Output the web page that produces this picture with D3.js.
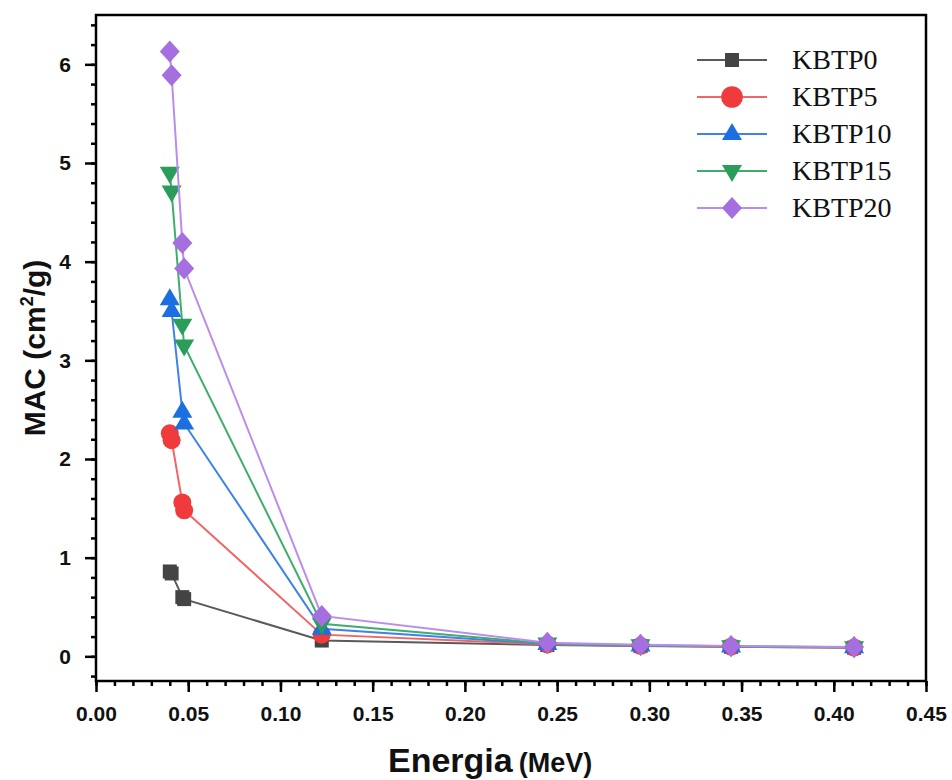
<!DOCTYPE html>
<html>
<head>
<meta charset="utf-8">
<script src="https://cdn.jsdelivr.net/npm/d3@7"></script>
<style>
  body { margin: 0; background: #fff; }
  svg { display: block; }
</style>
</head>
<body>
<div id="vis"></div>
<script>
// ----- DATA ----- //
const energies = [0.0400, 0.0410, 0.0468, 0.0478, 0.1224, 0.2447, 0.2952, 0.3443, 0.4110];
const seriesNames = ["KBTP0", "KBTP5", "KBTP10", "KBTP15", "KBTP20"];
const kbtp0 = [0.86, 0.84, 0.60, 0.58, 0.16, 0.115, 0.104, 0.096, 0.087];
const kbtp5 = [2.26, 2.19, 1.56, 1.48, 0.22, 0.120, 0.107, 0.098, 0.089];
const kbtp10 = [3.62, 3.50, 2.48, 2.36, 0.28, 0.126, 0.110, 0.100, 0.091];
const kbtp15 = [4.90, 4.71, 3.36, 3.15, 0.33, 0.131, 0.113, 0.102, 0.092];
const kbtp20 = [6.13, 5.89, 4.19, 3.93, 0.41, 0.138, 0.117, 0.104, 0.094];
const xTicks = [0, 0.05, 0.1, 0.15, 0.2, 0.25, 0.3, 0.35, 0.4, 0.45];
const yTicks = [0, 1, 2, 3, 4, 5, 6];

const allValues = [kbtp0, kbtp5, kbtp10, kbtp15, kbtp20];

let width = 952, height = 780;
let margin = { top: 15, right: 26, bottom: 99, left: 96 };

const svg = d3.select("#vis")
  .append("svg")
  .attr("width", width)
  .attr("height", height);

// ----- SCALES ----- //
let x = d3.scaleLinear().domain([0, 0.45]).range([margin.left, width - margin.right]);
let y = d3.scaleLinear().domain([-0.25, 6.5]).range([height - margin.bottom, margin.top]);

// colours: marker fill / line stroke
const markerColor = ["#444444", "#ef3b3b", "#1c6fe0", "#2a9d5a", "#a56fe0"];
const lineColor = ["#5a5a5a", "#f06666", "#3f82ea", "#3fae6c", "#b98cee"];

// marker shapes as paths centred on 0,0
function markerPath(i, k) {
  k = k || 1;
  if (i === 0) { let s = 7 * k; return `M${-s},${-s}h${2 * s}v${2 * s}h${-2 * s}Z`; }
  if (i === 1) { let r = 9 * k; return `M${r},0A${r},${r} 0 1,1 ${-r},0A${r},${r} 0 1,1 ${r},0Z`; }
  if (i === 2) { return `M0,${-11 * k}L${10 * k},${6 * k}L${-10 * k},${6 * k}Z`; }
  if (i === 3) { return `M0,${11 * k}L${10 * k},${-6 * k}L${-10 * k},${-6 * k}Z`; }
  return `M0,${-11 * k}L${10 * k},0L0,${11 * k}L${-10 * k},0Z`;
}

// ----- AXES ----- //
const plotBottom = height - margin.bottom;

let xAxisMinor = d3.axisBottom(x).tickValues(d3.range(0, 0.451, 0.01)).tickSize(5).tickFormat("");
svg.append("g").attr("transform", `translate(0,${plotBottom})`).call(xAxisMinor);

let xAxis = d3.axisBottom(x).tickValues(xTicks).tickSize(11).tickPadding(14)
  .tickFormat(d3.format(".2f"));
let xg = svg.append("g").attr("transform", `translate(0,${plotBottom})`).call(xAxis);
xg.selectAll("text").attr("font-size", 21);

let yAxisMinor = d3.axisLeft(y).tickValues(d3.range(-0.2, 6.45, 0.2)).tickSize(5).tickFormat("");
svg.append("g").attr("transform", `translate(${margin.left},0)`).call(yAxisMinor);

let yAxis = d3.axisLeft(y).tickValues(yTicks).tickSize(11).tickPadding(14)
  .tickFormat(d3.format("d"));
let yg = svg.append("g").attr("transform", `translate(${margin.left},0)`).call(yAxis);
yg.selectAll("text").attr("font-size", 21);

svg.selectAll(".domain").remove();
svg.selectAll(".tick line").attr("stroke", "#000").attr("stroke-width", 2.5);
svg.selectAll(".tick text")
  .attr("font-family", "Liberation Sans, Arial, sans-serif")
  .attr("font-weight", "bold")
  .attr("fill", "#111");

// frame
svg.append("rect")
  .attr("x", margin.left)
  .attr("y", margin.top)
  .attr("width", width - margin.right - margin.left)
  .attr("height", plotBottom - margin.top)
  .attr("fill", "none")
  .attr("stroke", "#000")
  .attr("stroke-width", 2.5);

// ----- LINES AND MARKERS ----- //
let line = d3.line().x((d) => x(d[0])).y((d) => y(d[1]));

allValues.forEach(function (vals, i) {
  let pts = energies.map((e, j) => [e, vals[j]]);
  svg.append("path")
    .datum(pts)
    .attr("d", line)
    .attr("fill", "none")
    .attr("stroke", lineColor[i])
    .attr("stroke-width", 2);

  svg.selectAll(".m" + i)
    .data(pts)
    .join("path")
    .attr("class", "m" + i)
    .attr("transform", (d) => `translate(${x(d[0])},${y(d[1])})`)
    .attr("d", markerPath(i))
    .attr("fill", markerColor[i]);
});

// ----- LEGEND ----- //
let legend = svg.selectAll(".legend")
  .data(seriesNames)
  .join("g")
  .attr("class", "legend")
  .attr("transform", (d, i) => `translate(697,${60 + i * 37})`);

legend.append("line")
  .attr("x1", 0).attr("x2", 70)
  .attr("stroke", (d, i) => lineColor[i])
  .attr("stroke-width", 2);

legend.append("path")
  .attr("transform", "translate(35,0)")
  .attr("d", (d, i) => markerPath(i, i === 1 ? 1.2 : 1))
  .attr("fill", (d, i) => markerColor[i]);

legend.append("text")
  .attr("x", 95)
  .attr("y", 9)
  .attr("font-family", "Liberation Serif, Times New Roman, serif")
  .attr("font-size", 28)
  .attr("fill", "#111")
  .text((d) => d);

// ----- AXIS TITLES ----- //
let xTitle = svg.append("text")
  .attr("x", 388)
  .attr("y", 772)
  .attr("font-family", "Liberation Sans, Arial, sans-serif")
  .attr("font-weight", "bold")
  .attr("fill", "#111");
xTitle.append("tspan").attr("font-size", 34).text("Energia");
xTitle.append("tspan").attr("font-size", 27).attr("dx", 6).text("(MeV)");

let yTitle = svg.append("text")
  .attr("transform", "translate(45,348) rotate(-90)")
  .attr("text-anchor", "middle")
  .attr("font-family", "Liberation Sans, Arial, sans-serif")
  .attr("font-weight", "bold")
  .attr("font-size", 30)
  .attr("fill", "#111");
yTitle.append("tspan").text("MAC (cm");
yTitle.append("tspan").attr("font-size", 18).attr("dy", -12).text("2");
yTitle.append("tspan").attr("dy", 12).text("/g)");
</script>
</body>
</html>
